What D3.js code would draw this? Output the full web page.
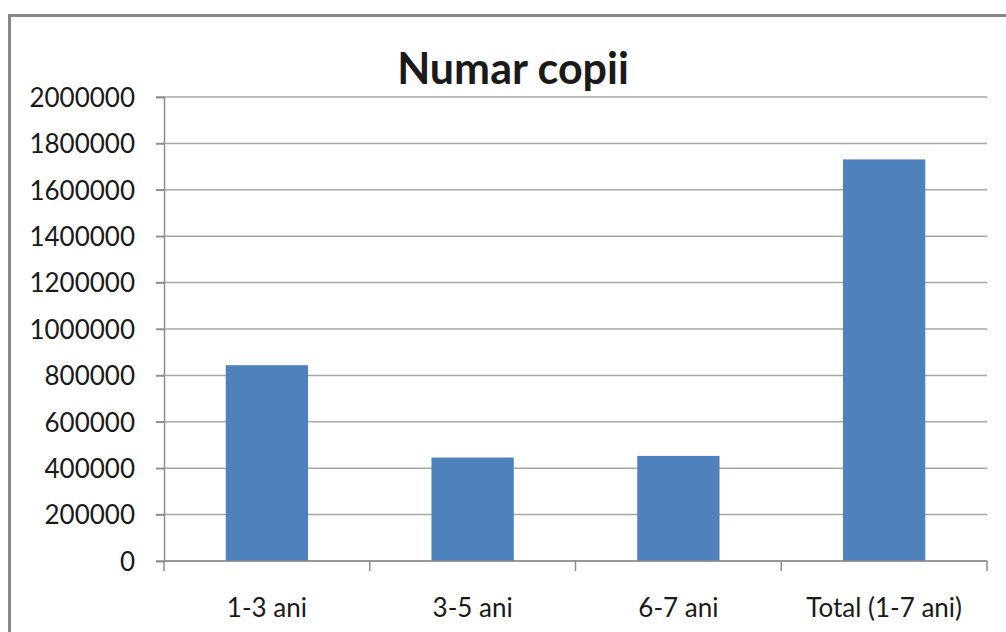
<!DOCTYPE html>
<html>
<head>
<meta charset="utf-8">
<script src="https://cdn.jsdelivr.net/npm/d3@7"></script>
<style>
  html, body { margin: 0; padding: 0; background: #fff; }
  #chart { width: 1006px; height: 632px; overflow: hidden; }
  text { font-family: Lato, 'Open Sans', sans-serif; fill: #1a1a1a; }
</style>
</head>
<body>
<div id="chart"></div>
<script>
const categories = ['1-3 ani', '3-5 ani', '6-7 ani', 'Total (1-7 ani)']
const values = [844000, 446000, 453000, 1731000]
const yTicks = [0, 200000, 400000, 600000, 800000, 1000000, 1200000, 1400000, 1600000, 1800000, 2000000]
const chartTitle = 'Numar copii'

const SIZE = Object.freeze({
  WIDTH: 1006,
  HEIGHT: 632,
  LEFT: 164,
  RIGHT: 987,
  TOP: 97,
  BOTTOM: 561,
})

const svg = d3.select('#chart')
  .append('svg')
  .attr('width', SIZE.WIDTH)
  .attr('height', SIZE.HEIGHT)

// outer frame (only top and left edges are visible in the crop)
svg.append('rect')
  .attr('x', 9.5)
  .attr('y', 15.5)
  .attr('width', 1100)
  .attr('height', 700)
  .attr('fill', '#fff')
  .attr('stroke', '#878787')
  .attr('stroke-width', 3)

const xScale = d3.scaleBand()
  .domain(categories)
  .range([SIZE.LEFT, SIZE.RIGHT])
  .paddingInner(0.6)
  .paddingOuter(0.3)

const yScale = d3.scaleLinear()
  .domain([0, 2000000])
  .range([SIZE.BOTTOM, SIZE.TOP])

// gridlines
svg.append('g')
  .selectAll('line')
  .data(yTicks)
  .join('line')
  .attr('x1', SIZE.LEFT - 8)
  .attr('x2', SIZE.RIGHT)
  .attr('y1', d => yScale(d))
  .attr('y2', d => yScale(d))
  .attr('stroke', '#a6a6a6')
  .attr('stroke-width', 1.5)

// y axis
const yAxis = d3.axisLeft(yScale)
  .tickValues(yTicks)
  .tickFormat(d => String(d))
  .tickSize(8)
  .tickPadding(21)

svg.append('g')
  .attr('transform', `translate(${SIZE.LEFT}, 0)`)
  .call(yAxis)
  .call(g => g.select('.domain').attr('stroke', '#8c8c8c').attr('stroke-width', 1.5))
  .call(g => g.selectAll('.tick line').attr('stroke', '#8c8c8c').attr('stroke-width', 1.5))
  .call(g => g.selectAll('.tick text')
    .style('font-family', "Lato, 'Open Sans', sans-serif")
    .style('font-size', '26px')
    .attr('fill', '#1a1a1a')
    .attr('dy', '0.36em'))

// bars
svg.append('g')
  .selectAll('rect')
  .data(values)
  .join('rect')
  .attr('x', (d, i) => xScale(categories[i]))
  .attr('width', xScale.bandwidth())
  .attr('y', d => yScale(d))
  .attr('height', d => yScale(0) - yScale(d))
  .attr('fill', '#4f81bd')

// x axis baseline + category dividers
const step = (SIZE.RIGHT - SIZE.LEFT) / categories.length
const dividers = d3.range(categories.length + 1).map(i => SIZE.LEFT + i * step)

svg.append('line')
  .attr('x1', SIZE.LEFT)
  .attr('x2', SIZE.RIGHT)
  .attr('y1', yScale(0))
  .attr('y2', yScale(0))
  .attr('stroke', '#8c8c8c')
  .attr('stroke-width', 1.5)

svg.append('g')
  .selectAll('line')
  .data(dividers)
  .join('line')
  .attr('x1', d => d)
  .attr('x2', d => d)
  .attr('y1', yScale(0))
  .attr('y2', yScale(0) + 10)
  .attr('stroke', '#8c8c8c')
  .attr('stroke-width', 1.5)

svg.append('g')
  .selectAll('text')
  .data(categories)
  .join('text')
  .attr('x', d => xScale(d) + xScale.bandwidth() / 2)
  .attr('y', 617)
  .attr('text-anchor', 'middle')
  .style('font-size', '26px')
  .text(d => d)

// title
svg.append('text')
  .attr('x', 513)
  .attr('y', 84)
  .attr('text-anchor', 'middle')
  .style('font-size', '43px')
  .style('font-weight', 'bold')
  .attr('fill', '#000')
  .text(chartTitle)
</script>
</body>
</html>
